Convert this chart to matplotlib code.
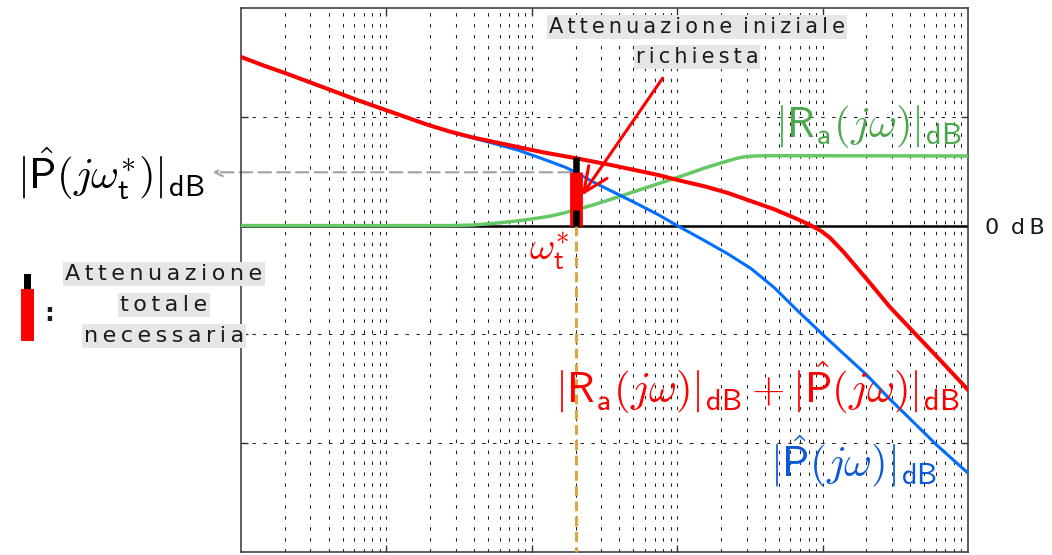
import matplotlib
matplotlib.use("Agg")
import matplotlib.pyplot as plt
from matplotlib.patches import Rectangle

plt.rcParams['mathtext.fontset'] = 'cm'
plt.rcParams['font.family'] = ['DejaVu Sans']

# |P(jw)| in dB
omega_p = [0.01, 0.0144, 0.0208, 0.0301, 0.0435, 0.0627, 0.0906, 0.131, 0.189,
           0.272, 0.393, 0.567, 0.819, 1.18, 1.71, 2.0, 2.65, 3.56, 5.13, 7.41,
           10, 15.5, 22.3, 32.2, 46.5, 67, 100, 140, 200, 290, 420, 607, 1000]
mag_p = [31.0, 29.4, 27.9, 26.3, 24.7, 23.1, 21.6, 20.1, 18.6,
         17.3, 16.1, 15.0, 13.8, 12.3, 10.7, 9.8, 8.0, 6.3, 4.2, 2.0,
         0.0, -2.8, -5.2, -7.9, -11.4, -15.6, -20.0, -23.6, -27.4, -31.9, -36.1, -40.3, -45.5]

# |Ra(jw)| in dB
omega_ra = [0.01, 0.272, 0.393, 0.567, 0.819, 1.18, 1.37, 1.71, 2.0, 2.65, 3.56,
            5.13, 7.41, 10.7, 15.5, 22.3, 26, 29.9, 36, 46.5, 1000]
mag_ra = [0.0, 0.0, 0.1, 0.45, 0.9, 1.5, 1.8, 2.4, 2.9, 3.8, 4.9,
          6.3, 7.7, 9.1, 10.6, 11.9, 12.4, 12.7, 12.82, 12.85, 12.8]

# |Ra(jw)| + |P(jw)| in dB
omega_sum = [0.01, 0.0144, 0.0208, 0.0301, 0.0435, 0.0627, 0.0906, 0.131, 0.189,
             0.272, 0.393, 0.567, 0.819, 1.18, 2.0, 3.56, 7.41, 10, 15.5, 22.3,
             32.2, 46.5, 67, 83.6, 97.8, 112, 140, 202, 291, 420, 607, 1000]
mag_sum = [31.0, 29.4, 27.9, 26.3, 24.7, 23.1, 21.6, 20.1, 18.6,
           17.3, 16.2, 15.3, 14.4, 13.5, 12.4, 11.1, 9.3, 8.4, 7.2, 6.0,
           4.5, 3.0, 1.2, 0.0, -1.0, -2.2, -4.9, -9.9, -15.0, -19.5, -24.0, -30.2]

# crossover point and attenuation values at it
omega_t = 2.0
p_t = 9.8
ra_t = 2.9

W, H = 1052, 555
RED = '#ff0000'
BLUE = '#006eff'
GREEN = '#64c864'
GOLD = '#d9a93f'
BOXBG = '#e6e6e6'


def spaced(s):
    # widen the tracking of a label
    return ' \u2009'.join('\u2009'.join(w) for w in s.split(' '))


def fx(px):
    return px / W


def fy(py):
    return 1 - py / H


fig = plt.figure(figsize=(W / 100, H / 100), dpi=100)
ax = fig.add_axes([fx(241), fy(552), fx(968) - fx(241), fy(8) - fy(552)])
ax.set_xscale('log')
ax.set_xlim(0.01, 1000)
ax.set_ylim(-60, 40)
ax.set_yticks([-40, -20, 0, 20])
ax.set_xticks([0.1, 1, 10, 100])
ax.xaxis.set_minor_locator(matplotlib.ticker.LogLocator(base=10, subs=range(2, 10)))
ax.set_xticklabels([])
ax.set_yticklabels([])
ax.xaxis.set_minor_formatter(matplotlib.ticker.NullFormatter())
ax.tick_params(which='major', direction='in', length=5, width=1,
               top=True, right=True, color='#333333')
ax.tick_params(which='minor', length=0)
for sp in ax.spines.values():
    sp.set_color('#333333')
    sp.set_linewidth(1.1)

grid_kw = dict(color='#222222', linewidth=0.75, linestyle=(0, (3.3, 7.2)))
ax.grid(True, which='major', axis='both', **grid_kw)
ax.grid(True, which='minor', axis='x', **grid_kw)
ax.set_axisbelow(True)

ax.axhline(0, color='black', linewidth=1.8, zorder=2)

ax.plot(omega_ra, mag_ra, color=GREEN, linewidth=2.5, zorder=3)
ax.plot(omega_p, mag_p, color=BLUE, linewidth=2.2, zorder=4)
ax.plot(omega_sum, mag_sum, color=RED, linewidth=2.9, zorder=5)

# golden marker below the crossover
ax.plot([omega_t, omega_t], [0, -60], color=GOLD, linewidth=2.2,
        linestyle=(0, (3.2, 1.8)), zorder=3, clip_on=False)

# attenuation bar at omega_t
ax.plot([omega_t, omega_t], [0, p_t], color=RED, linewidth=9.2,
        solid_capstyle='butt', zorder=6)
ax.plot([omega_t, omega_t], [p_t, p_t + ra_t], color='black', linewidth=4.7,
        solid_capstyle='butt', zorder=7)
ax.plot([omega_t, omega_t], [0, ra_t], color='black', linewidth=4.7,
        solid_capstyle='butt', zorder=7)

# dashed reference to the left label
ax.annotate('', xy=(-0.039, p_t), xycoords=('axes fraction', 'data'),
            xytext=(1.86, p_t), textcoords='data', annotation_clip=False,
            arrowprops=dict(arrowstyle='->', color='#a0a0a0', linewidth=1.5,
                            linestyle=(0, (6, 3)), shrinkA=0, shrinkB=0,
                            mutation_scale=14), zorder=2)

# arrow pointing at the initial attenuation
ax.annotate('', xy=(2.2, 5.5), xytext=(7.94, 27.1),
            arrowprops=dict(arrowstyle='->,head_length=0.9,head_width=0.4',
                            color=RED, linewidth=2.2, shrinkA=0, shrinkB=0,
                            mutation_scale=20), zorder=8)

math_size = 31
fig.text(fx(962), fy(137), r'$|\mathsf{R}_{\mathsf{a}}(j\omega)|_{\mathsf{dB}}$',
         color='#4aa84a', fontsize=math_size, ha='right', va='baseline')
fig.text(fx(960), fy(403), r'$|\mathsf{R}_{\mathsf{a}}(j\omega)|_{\mathsf{dB}}'
         r'+|\hat{\mathsf{P}}(j\omega)|_{\mathsf{dB}}$',
         color=RED, fontsize=math_size, ha='right', va='baseline')
fig.text(fx(937), fy(477), r'$|\hat{\mathsf{P}}(j\omega)|_{\mathsf{dB}}$',
         color='#0a5ad8', fontsize=math_size, ha='right', va='baseline')
fig.text(fx(205), fy(189), r'$|\hat{\mathsf{P}}(j\omega^{*}_{\mathsf{t}})|_{\mathsf{dB}}$',
         color='black', fontsize=math_size, ha='right', va='baseline')
fig.text(fx(549), fy(260), r'$\omega^{*}_{\mathsf{t}}$',
         color=RED, fontsize=28, ha='center', va='baseline')

label_kw = dict(color='#1a1a1a', ha='center', va='center',
                bbox=dict(facecolor=BOXBG, edgecolor='none', pad=1.5))
fig.text(fx(697), fy(27), spaced('Attenuazione iniziale'), fontsize=15, **label_kw)
fig.text(fx(697), fy(57), spaced('richiesta'), fontsize=15, **label_kw)
fig.text(fx(164), fy(274), spaced('Attenuazione'), fontsize=16, **label_kw)
fig.text(fx(164), fy(305), spaced('totale'), fontsize=16, **label_kw)
fig.text(fx(164), fy(336), spaced('necessaria'), fontsize=16, **label_kw)
fig.text(fx(985), fy(228), spaced('0 dB'), fontsize=16, color='#1a1a1a',
         ha='left', va='center')
fig.text(fx(49), fy(314), ':', fontsize=18, color='#1a1a1a',
         ha='center', va='center', fontweight='bold')

# legend swatch for the total attenuation
fig.add_artist(Rectangle((fx(21), fy(341)), fx(12.6), fy(289) - fy(341),
                         transform=fig.transFigure, facecolor=RED, edgecolor='none'))
fig.add_artist(Rectangle((fx(24), fy(289)), fx(6.7), fy(274) - fy(289),
                         transform=fig.transFigure, facecolor='black', edgecolor='none'))

fig.savefig('out.png', dpi=100)
